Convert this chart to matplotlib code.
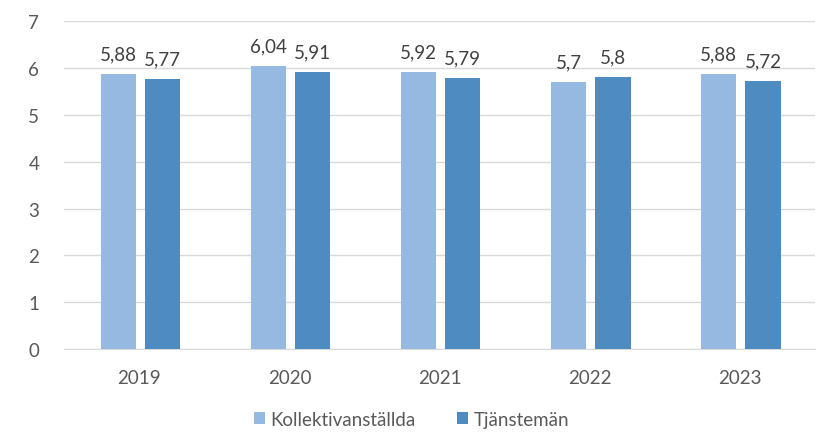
import matplotlib.pyplot as plt
import numpy as np

years = ['2019', '2020', '2021', '2022', '2023']
kollektiv = [5.88, 6.04, 5.92, 5.7, 5.88]
tjanstemán = [5.77, 5.91, 5.79, 5.8, 5.72]
series_names = ['Kollektivanställda', 'Tjänstemän']

light = '#95B9E1'
dark = '#4E8BC0'
text_col = '#595959'

plt.rcParams['font.family'] = ['Lato', 'DejaVu Sans']

fig = plt.figure(figsize=(8.23, 4.35), dpi=100)
ax = fig.add_axes([0.078, 0.195, 0.912, 0.754])

x = np.arange(len(years))
w = 0.235
b1 = ax.bar(x - 0.14, kollektiv, w, color=light, label=series_names[0], zorder=3)
b2 = ax.bar(x + 0.155, tjanstemán, w, color=dark, label=series_names[1], zorder=3)

def fmt(v):
    return ('%g' % v).replace('.', ',')

for bars, vals in ((b1, kollektiv), (b2, tjanstemán)):
    for rect, v in zip(bars, vals):
        ax.text(rect.get_x() + rect.get_width() / 2, v + 0.25, fmt(v),
                ha='center', va='bottom', fontsize=13.5, color='#404040')

ax.set_xlim(-0.5, 4.5)
ax.set_ylim(0, 7)
ax.set_yticks(range(8))
ax.set_xticks(x)
ax.set_xticklabels(years)
ax.tick_params(axis='both', length=0, labelsize=13.5, colors=text_col)
ax.tick_params(axis='y', pad=18)
ax.tick_params(axis='x', pad=14)
ax.grid(axis='y', color='#D9D9D9', linewidth=1, zorder=0)
for s in ['top', 'right', 'left']:
    ax.spines[s].set_visible(False)
ax.spines['bottom'].set_color('#D9D9D9')

leg = fig.legend(loc='lower center', bbox_to_anchor=(0.5, -0.025), ncol=2, frameon=False,
                 fontsize=13.5, handlelength=0.6, handleheight=0.6, columnspacing=2.2,
                 handletextpad=0.3)
for t in leg.get_texts():
    t.set_color(text_col)

fig.savefig('out.png', dpi=100)
